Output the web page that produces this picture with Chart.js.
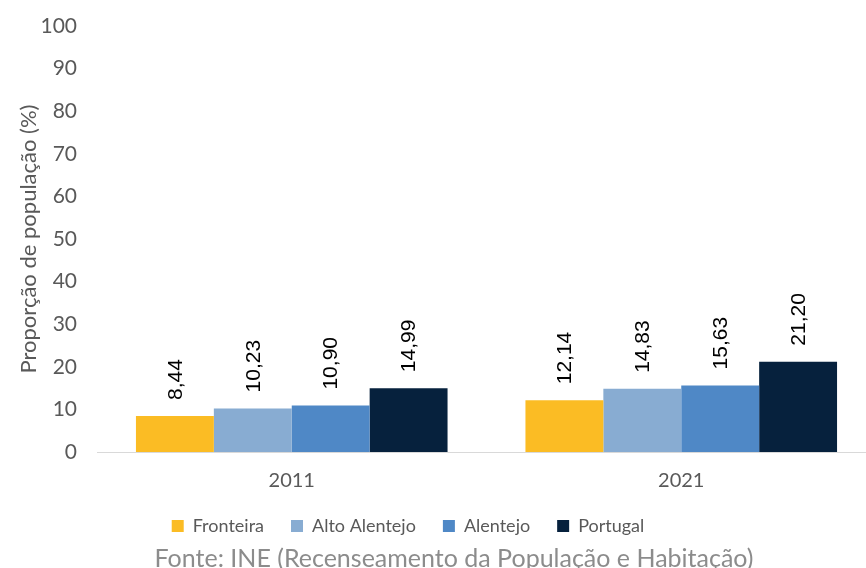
<!DOCTYPE html>
<html>
<head>
<meta charset="utf-8">
<script src="https://cdn.jsdelivr.net/npm/chart.js@4"></script>
<style>
  html, body { margin: 0; padding: 0; background: #fff; overflow: hidden; width: 866px; height: 568px; }
</style>
</head>
<body>
<canvas id="popChart" width="876" height="568"></canvas>
<script>
const years = ['2011', '2021'];
const fronteira = [8.44, 12.14];
const altoAlentejo = [10.23, 14.83];
const alentejo = [10.90, 15.63];
const portugal = [14.99, 21.20];

const fnt = 'Lato, "Liberation Sans", sans-serif';

// rotated value above each bar
const valueLabels = {
  id: 'valueLabels',
  afterDatasetsDraw(chart) {
    const ctx = chart.ctx;
    ctx.save();
    ctx.font = '21px "Liberation Sans", Arial, sans-serif';
    ctx.fillStyle = '#000';
    ctx.textAlign = 'left';
    ctx.textBaseline = 'middle';
    chart.data.datasets.forEach((ds, i) => {
      chart.getDatasetMeta(i).data.forEach((bar, j) => {
        const txt = ds.data[j].toFixed(2).replace('.', ',');
        ctx.save();
        ctx.translate(bar.x + 1, bar.y - 16);
        ctx.rotate(-Math.PI / 2);
        ctx.fillText(txt, 0, 0);
        ctx.restore();
      });
    });
    ctx.restore();
  }
};

// legend / source line are not centred on the page in the original
const nudge = {
  id: 'nudge',
  afterLayout(chart) {
    chart.legend.left -= 37;
    chart.legend.right -= 37;
    chart.titleBlock.left += 9;
    chart.titleBlock.right += 9;
  }
};

new Chart('popChart', {
  type: 'bar',
  data: {
    labels: years,
    datasets: [
      { label: 'Fronteira', data: fronteira, backgroundColor: '#FBBC24' },
      { label: 'Alto Alentejo', data: altoAlentejo, backgroundColor: '#88ACD2' },
      { label: 'Alentejo', data: alentejo, backgroundColor: '#4F88C6' },
      { label: 'Portugal', data: portugal, backgroundColor: '#06213D' }
    ]
  },
  options: {
    responsive: false,
    animation: false,
    layout: { padding: { top: 0, left: 14, right: 0, bottom: 0 } },
    datasets: { bar: { barPercentage: 1, categoryPercentage: 0.8 } },
    scales: {
      x: {
        grid: { display: false, drawTicks: false },
        border: { color: '#d9d9d9', width: 1 },
        ticks: { color: '#595959', font: { family: fnt, size: 20 }, padding: 17 },
        afterFit(scale) { scale.height = 38; }
      },
      y: {
        min: 0, max: 100,
        grid: { display: false, drawTicks: false },
        border: { display: false },
        ticks: { stepSize: 10, color: '#595959', font: { family: fnt, size: 21, lineHeight: 1 }, padding: 20 },
        title: { display: true, text: 'Proporção de população (%)', color: '#595959',
                 font: { family: fnt, size: 22 }, padding: 2 },
        afterFit(scale) { scale.width = 83; scale.paddingTop = 26; }
      }
    },
    plugins: {
      legend: {
        position: 'bottom',
        labels: { boxWidth: 12, boxHeight: 12, padding: 27, color: '#595959',
                  font: { family: fnt, size: 18 } }
      },
      title: {
        display: true, position: 'bottom', text: 'Fonte: INE (Recenseamento da População e Habitação)',
        color: '#8c8c8c', font: { family: fnt, size: 25, weight: 'normal' }, padding: { top: -1, bottom: -6 }
      },
      tooltip: { enabled: false }
    }
  },
  plugins: [valueLabels, nudge]
});
</script>
</body>
</html>
